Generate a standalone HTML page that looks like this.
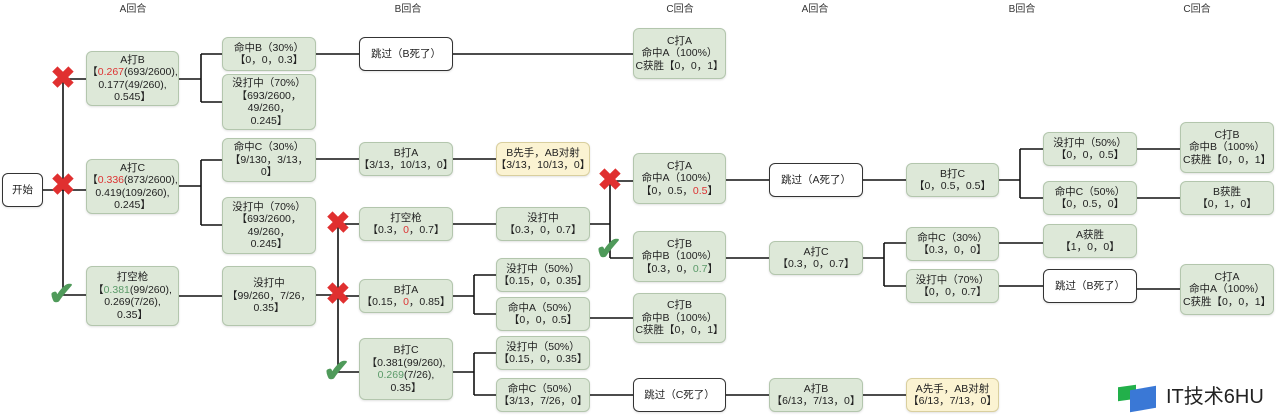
<!DOCTYPE html>
<html><head><meta charset="utf-8"><style>
body{margin:0;width:1280px;height:418px;background:#fff;position:relative;overflow:hidden;font-family:"Liberation Sans","Noto Sans CJK SC",sans-serif;color:#222}
.b{position:absolute;box-sizing:border-box;background:#dde8d8;border:1px solid #b3c6ad;border-radius:6px;display:flex;align-items:center;justify-content:center;text-align:center;font-size:10.5px;line-height:12.5px;box-shadow:0 1px 2px rgba(0,0,0,.12)}
.b>div{display:block;white-space:nowrap}
.w{background:#fff;border:1px solid #333}
.y{background:#fbf3d2;border-color:#d9cf9e}
.r{color:#d33}.g{color:#5a9a68}
.t{position:absolute;top:0;font-size:10px;color:#333;transform:translateX(-50%)}
svg{position:absolute;left:0;top:0}
.x{position:absolute;color:#e03030;font-size:30px;font-weight:bold;transform:translate(-50%,-50%);line-height:1}
.c{position:absolute;color:#4f9a5a;font-size:32px;font-weight:bold;transform:translate(-55%,-55%);line-height:1}
</style></head><body>
<svg width="1280" height="418" stroke="#111" stroke-width="1.6" fill="none">
<path d="M43 190H86M63 79V295M63 79H86M63 295H86"/>
<path d="M179 79H201M201 54V102M201 54H222M201 102H222M316 54H359M453 54H633"/>
<path d="M179 186H201M201 160V225M201 160H222M201 225H222M316 159H359M453 159H496"/>
<path d="M179 296H222M316 295H338M338 224V372M338 224H359M338 296H359M338 372H359"/>
<path d="M453 224H496M590 224H610M610 181V258M610 181H633M610 258H633"/>
<path d="M453 296H474M474 275V314M474 275H496M474 314H496M590 318H633"/>
<path d="M453 372H474M474 353V395M474 353H496M474 395H496M590 395H633M726 395H769M863 395H906"/>
<path d="M726 180H769M863 180H906M999 180H1020M1020 149V198M1020 149H1043M1020 198H1043M1137 149H1180M1137 198H1180"/>
<path d="M726 258H769M863 258H884M884 243V286M884 243H906M884 286H906M999 243H1043M999 286H1043M1137 289H1180"/>
</svg>
<div class="t" style="left:133px">A回合</div><div class="t" style="left:408px">B回合</div><div class="t" style="left:680px">C回合</div><div class="t" style="left:815px">A回合</div><div class="t" style="left:1022px">B回合</div><div class="t" style="left:1197px">C回合</div>

<div class="b w" style="left:2px;top:173px;width:41px;height:34px"><div>开始</div></div>
<div class="b" style="left:86px;top:51px;width:93px;height:55px"><div>A打B<br>【<span class="r">0.267</span>(693/2600),<br>0.177(49/260),<br>0.545】</div></div>
<div class="b" style="left:86px;top:159px;width:93px;height:55px"><div>A打C<br>【<span class="r">0.336</span>(873/2600),<br>0.419(109/260),<br>0.245】</div></div>
<div class="b" style="left:86px;top:266px;width:93px;height:60px"><div>打空枪<br>【<span class="g">0.381</span>(99/260),<br>0.269(7/26),<br>0.35】</div></div>
<div class="b" style="left:222px;top:37px;width:94px;height:34px"><div>命中B（30%）<br>【0，0，0.3】</div></div>
<div class="b" style="left:222px;top:74px;width:94px;height:56px"><div>没打中（70%）<br>【693/2600，<br>49/260，<br>0.245】</div></div>
<div class="b" style="left:222px;top:138px;width:94px;height:44px"><div>命中C（30%）<br>【9/130，3/13，<br>0】</div></div>
<div class="b" style="left:222px;top:197px;width:94px;height:57px"><div>没打中（70%）<br>【693/2600，<br>49/260，<br>0.245】</div></div>
<div class="b" style="left:222px;top:266px;width:94px;height:60px"><div>没打中<br>【99/260，7/26，<br>0.35】</div></div>
<div class="b w" style="left:359px;top:37px;width:94px;height:34px"><div>跳过（B死了）</div></div>
<div class="b" style="left:359px;top:142px;width:94px;height:34px"><div>B打A<br>【3/13，10/13，0】</div></div>
<div class="b" style="left:359px;top:207px;width:94px;height:34px"><div>打空枪<br>【0.3，<span class="r">0</span>，0.7】</div></div>
<div class="b" style="left:359px;top:279px;width:94px;height:34px"><div>B打A<br>【0.15，<span class="r">0</span>，0.85】</div></div>
<div class="b" style="left:359px;top:338px;width:94px;height:62px"><div>B打C<br>【0.381(99/260),<br><span class="g">0.269</span>(7/26),<br>0.35】</div></div>
<div class="b y" style="left:496px;top:142px;width:94px;height:34px"><div>B先手，AB对射<br>【3/13，10/13，0】</div></div>
<div class="b" style="left:496px;top:207px;width:94px;height:34px"><div>没打中<br>【0.3，0，0.7】</div></div>
<div class="b" style="left:496px;top:258px;width:94px;height:34px"><div>没打中（50%）<br>【0.15，0，0.35】</div></div>
<div class="b" style="left:496px;top:297px;width:94px;height:34px"><div>命中A（50%）<br>【0，0，0.5】</div></div>
<div class="b" style="left:496px;top:336px;width:94px;height:34px"><div>没打中（50%）<br>【0.15，0，0.35】</div></div>
<div class="b" style="left:496px;top:378px;width:94px;height:34px"><div>命中C（50%）<br>【3/13，7/26，0】</div></div>
<div class="b" style="left:633px;top:28px;width:93px;height:51px"><div>C打A<br>命中A（100%）<br>C获胜【0，0，1】</div></div>
<div class="b" style="left:633px;top:153px;width:93px;height:51px"><div>C打A<br>命中A（100%）<br>【0，0.5，<span class="r">0.5</span>】</div></div>
<div class="b" style="left:633px;top:231px;width:93px;height:51px"><div>C打B<br>命中B（100%）<br>【0.3，0，<span class="g">0.7</span>】</div></div>
<div class="b" style="left:633px;top:293px;width:93px;height:50px"><div>C打B<br>命中B（100%）<br>C获胜【0，0，1】</div></div>
<div class="b w" style="left:633px;top:378px;width:93px;height:34px"><div>跳过（C死了）</div></div>
<div class="b w" style="left:769px;top:163px;width:94px;height:34px"><div>跳过（A死了）</div></div>
<div class="b" style="left:769px;top:241px;width:94px;height:34px"><div>A打C<br>【0.3，0，0.7】</div></div>
<div class="b" style="left:769px;top:378px;width:94px;height:34px"><div>A打B<br>【6/13，7/13，0】</div></div>
<div class="b" style="left:906px;top:163px;width:93px;height:34px"><div>B打C<br>【0，0.5，0.5】</div></div>
<div class="b" style="left:906px;top:227px;width:93px;height:34px"><div>命中C（30%）<br>【0.3，0，0】</div></div>
<div class="b" style="left:906px;top:269px;width:93px;height:34px"><div>没打中（70%）<br>【0，0，0.7】</div></div>
<div class="b y" style="left:906px;top:378px;width:93px;height:34px"><div>A先手，AB对射<br>【6/13，7/13，0】</div></div>
<div class="b" style="left:1043px;top:132px;width:94px;height:34px"><div>没打中（50%）<br>【0，0，0.5】</div></div>
<div class="b" style="left:1043px;top:181px;width:94px;height:34px"><div>命中C（50%）<br>【0，0.5，0】</div></div>
<div class="b" style="left:1043px;top:224px;width:94px;height:34px"><div>A获胜<br>【1，0，0】</div></div>
<div class="b w" style="left:1043px;top:269px;width:94px;height:34px"><div>跳过（B死了）</div></div>
<div class="b" style="left:1180px;top:122px;width:94px;height:51px"><div>C打B<br>命中B（100%）<br>C获胜【0，0，1】</div></div>
<div class="b" style="left:1180px;top:181px;width:94px;height:34px"><div>B获胜<br>【0，1，0】</div></div>
<div class="b" style="left:1180px;top:264px;width:94px;height:51px"><div>C打A<br>命中A（100%）<br>C获胜【0，0，1】</div></div>

<div class="x" style="left:63px;top:79px">✖</div>
<div class="x" style="left:63px;top:186px">✖</div>
<div class="x" style="left:338px;top:224px">✖</div>
<div class="x" style="left:338px;top:295px">✖</div>
<div class="x" style="left:610px;top:181px">✖</div>
<div class="c" style="left:63px;top:295px">✔</div>
<div class="c" style="left:338px;top:372px">✔</div>
<div class="c" style="left:610px;top:250px">✔</div>

<div style="position:absolute;left:1118px;top:386px;width:18px;height:14px;background:#22b04a;transform:skewY(-8deg)"></div>
<div style="position:absolute;left:1130px;top:388px;width:26px;height:22px;background:#3a78d6;transform:skewY(-10deg)"></div>
<div style="position:absolute;left:1166px;top:385px;font-size:20px;color:#222;line-height:24px">IT技术6HU</div>
</body></html>
